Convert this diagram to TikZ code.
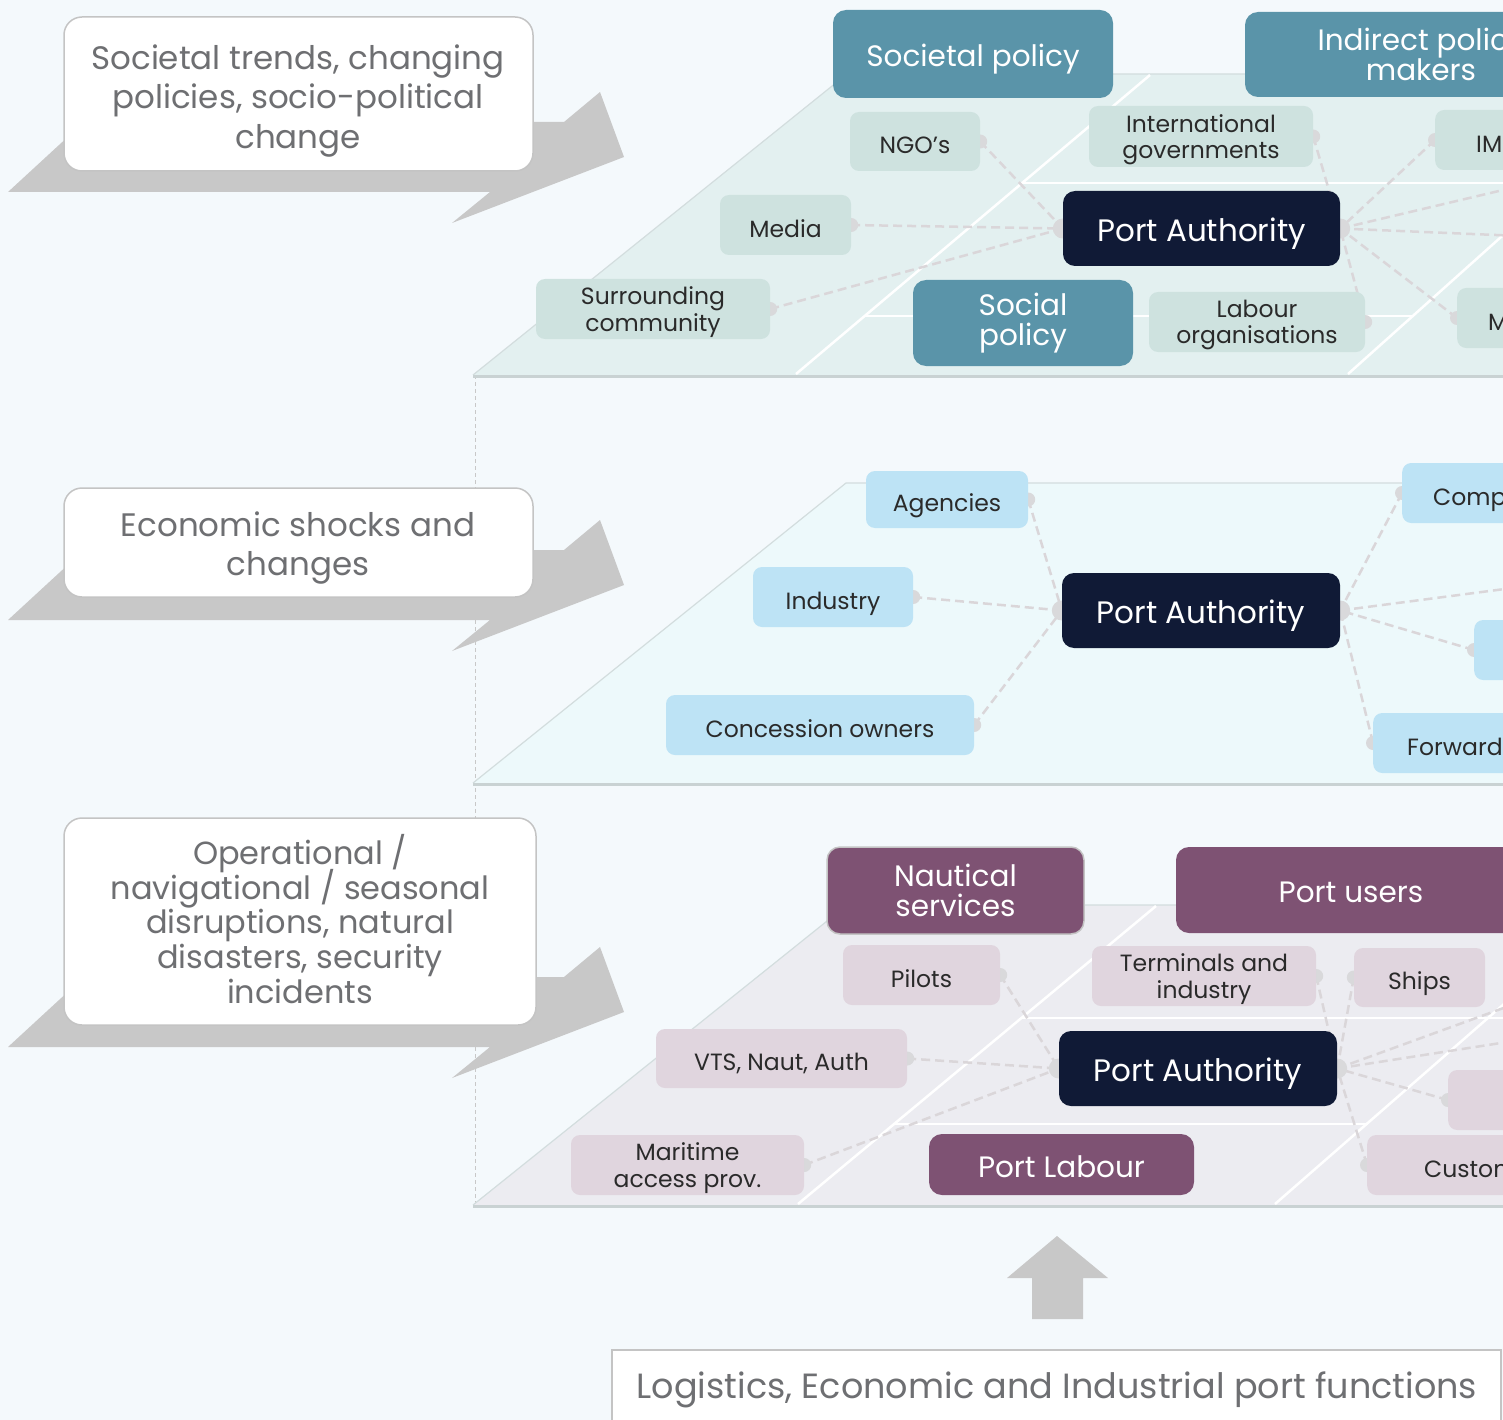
\documentclass[tikz,border=0pt]{standalone}
\usepackage{fontspec}
\setmainfont{Poppins}
\definecolor{bgc}{HTML}{F4F9FC}
\definecolor{topplane}{HTML}{E3F0F0}
\definecolor{topnode}{HTML}{CEE2DF}
\definecolor{cteal}{HTML}{5A94A9}
\definecolor{cnavy}{HTML}{101A36}
\definecolor{midplane}{HTML}{EDF9FB}
\definecolor{midnode}{HTML}{BDE3F5}
\definecolor{botplane}{HTML}{ECECF1}
\definecolor{botnode}{HTML}{E0D5DE}
\definecolor{cpurp}{HTML}{7E5273}
\definecolor{dashc}{HTML}{DAD6D9}
\definecolor{dotc}{HTML}{D9D9DB}
\definecolor{calltxt}{HTML}{6E6F72}
\definecolor{callb}{HTML}{C4C4C4}
\definecolor{arrowc}{HTML}{C8C8C8}
\definecolor{txtd}{HTML}{2A2A2A}
\definecolor{planeedge}{HTML}{D3DDDE}
\definecolor{planeshadow}{HTML}{C9D2D3}
\newcommand\fcall{\fontsize{32.5}{39.5}\selectfont\lineskiplimit=-40pt\lineskip=0pt}
\newcommand\fcallc{\fontsize{32}{34.8}\selectfont\lineskiplimit=-40pt\lineskip=0pt}
\newcommand\fhead{\fontsize{29.5}{30}\selectfont\lineskiplimit=-40pt\lineskip=0pt}
\newcommand\fpa{\fontsize{31}{32}\selectfont}
\newcommand\fsm{\fontsize{23.5}{26.5}\selectfont\lineskiplimit=-40pt\lineskip=0pt}
\newcommand\fbig{\fontsize{35}{38}\selectfont}
\newcommand\bx[7]{\node[#6, minimum width={(#4-#2)*1pt}, minimum height={(#5-#3)*1pt}] (#1) at ({(#2+#4)/2},{(#3+#5)/2}) {#7};}
\pgfdeclarelayer{bglayer}
\pgfdeclarelayer{connlayer}
\pgfsetlayers{bglayer,connlayer,main}
\begin{document}
\begin{tikzpicture}[x=1pt,y=-1pt,
  nd/.style={rounded corners=9pt, inner sep=0pt, align=center},
  tsm/.style={nd, fill=topnode, text=txtd, font=\fsm},
  msm/.style={nd, fill=midnode, text=txtd, font=\fsm},
  bsm/.style={nd, fill=botnode, text=txtd, font=\fsm},
  thd/.style={nd, rounded corners=13pt, fill=cteal, text=white, font=\fhead},
  bhd/.style={nd, rounded corners=13pt, fill=cpurp, text=white, font=\fhead},
  pa/.style={nd, rounded corners=12pt, fill=cnavy, text=white, font=\fpa, text height=26pt, text depth=0pt},
  one/.style={text height=24.5pt, text depth=0pt},
  two/.style={text depth=-2pt},
  oneh/.style={text height=25pt, text depth=0pt},
  cut/.style={anchor=west, text width=200pt, align=left, minimum height=60pt, inner ysep=0pt, rounded corners=9pt, text=txtd, font=\fsm, one},
  conn/.style={draw=dashc, line width=2.5pt, dash pattern=on 9pt off 5pt},
  cbox/.style={draw=callb, line width=1.5pt, fill=white, rounded corners=18pt, inner sep=0pt},
  ctext/.style={text=calltxt, align=center, inner sep=0pt},
  grid/.style={draw=white, line width=2.5pt},
  dot/.style={fill=dotc}
]
\useasboundingbox (0,0) rectangle (1503,1420);
\clip (0,0) rectangle (1503,1420);

\begin{pgfonlayer}{bglayer}
\fill[bgc] (0,0) rectangle (1503,1420);
% vertical dashed guide
\draw[draw=arrowc, line width=1pt, dash pattern=on 4pt off 3pt] (475,375) -- (475,1205);
% callout arrows
\foreach \s in {0,428,855}{
  \fill[arrowc] (8,192+\s) -- (84,122+\s) -- (564,122+\s) -- (600,92+\s) -- (624,157+\s) -- (452,223+\s) -- (490,192+\s) -- cycle;
}
% up arrow
\fill[arrowc] (1057,1236) -- (1108,1278) -- (1083,1278) -- (1083,1319) -- (1032,1319) -- (1032,1278) -- (1007,1278) -- cycle;
% planes
\fill[topplane] (473,375) -- (847,74) -- (1520,74) -- (1520,375) -- cycle;
\draw[planeedge, line width=1.2pt] (473,375) -- (847,74) -- (1520,74);
\draw[planeshadow, line width=3pt] (473,376) -- (1520,376);
\fill[midplane] (473,783) -- (846,483) -- (1520,483) -- (1520,783) -- cycle;
\draw[planeedge, line width=1.2pt] (473,783) -- (846,483) -- (1520,483);
\draw[planeshadow, line width=3pt] (473,784) -- (1520,784);
\fill[botplane] (473,1205) -- (847,905) -- (1520,905) -- (1520,1205) -- cycle;
\draw[planeedge, line width=1.2pt] (473,1205) -- (847,905) -- (1520,905);
\draw[planeshadow, line width=3pt] (473,1206) -- (1520,1206);
% grid lines
\draw[grid] (1150,75) -- (796,374);
\draw[grid] (1348,374) -- (1520,220);
\draw[grid] (1022,183) -- (1520,183);
\draw[grid] (865,316) -- (1414,316);
\draw[grid] (1156,906) -- (798,1204);
\draw[grid] (1275,1204) -- (1520,990);
\draw[grid] (1021,1018) -- (1520,1018);
\draw[grid] (894,1124) -- (1368,1124);
\end{pgfonlayer}

% callout boxes
\bx{c1}{64}{17}{533}{171}{cbox}{}
\node[ctext, font=\fcall] (c1t) at (298,101) {Societal trends, changing\\policies, socio-political\\change};
\bx{c2}{64}{488}{533}{597}{cbox}{}
\node[ctext, font=\fcall] (c2t) at (298,548) {Economic shocks and\\changes};
\bx{c3}{64}{818}{536}{1025}{cbox}{}
\node[ctext, font=\fcallc] (c3t) at (300,919) {Operational /\\navigational / seasonal\\disruptions, natural\\disasters, security\\incidents};

% bottom box
\draw[callb, line width=1.5pt, fill=white] (612,1350) rectangle (1501,1440);
\node[ctext, font=\fbig, text height=25pt, text depth=0pt] (func) at (1057,1386) {Logistics, Economic and Industrial port functions};

% ---------- top level nodes
\bx{socp}{833}{10}{1113}{98}{thd, oneh}{Societal policy}
\bx{indp}{1245}{12}{1597}{97}{thd}{Indirect policy\\makers}
\bx{ngo}{850}{112}{980}{171}{tsm, one}{NGO’s}
\bx{intl}{1089}{106}{1313}{167}{tsm, two}{International\\governments}
\node[cut, fill=topnode, inner xsep=41pt] (imo) at (1435,140) {IM};
\bx{pa1}{1063}{191}{1340}{266}{pa}{Port Authority}
\bx{media}{720}{195}{851}{255}{tsm, one}{Media}
\bx{surr}{536}{279}{770}{339}{tsm, two}{Surrounding\\community}
\bx{socl}{913}{280}{1133}{366}{thd}{Social\\policy}
\bx{lab}{1149}{292}{1365}{352}{tsm, two}{Labour\\organisations}
\node[cut, fill=topnode, inner xsep=31pt] (mm) at (1457,318) {M};
\coordinate (t1) at (1520,186);
\coordinate (t2) at (1520,236);

% ---------- middle level nodes
\bx{agen}{866}{471}{1028}{528}{msm, one}{Agencies}
\bx{ind}{753}{567}{913}{627}{msm, one}{Industry}
\bx{conc}{666}{695}{974}{755}{msm, one}{Concession owners}
\bx{pa2}{1062}{573}{1340}{648}{pa}{Port Authority}
\node[cut, fill=midnode, inner xsep=31pt] (comp) at (1402,493) {Comp};
\node[cut, fill=midnode, inner xsep=31pt] (unm) at (1474,650) {};
\node[cut, fill=midnode, inner xsep=34pt] (fwd) at (1373,743) {Forward};
\coordinate (m1) at (1520,587);

% ---------- bottom level nodes
\bx{naut}{827}{847}{1084}{934}{bhd, draw=callb, line width=1.5pt}{Nautical\\services}
\bx{pusers}{1176}{847}{1526}{933}{bhd, oneh}{Port users}
\bx{pil}{843}{945}{1000}{1005}{bsm, one}{Pilots}
\bx{term}{1092}{946}{1316}{1006}{bsm, two}{Terminals and\\industry}
\bx{ships}{1354}{948}{1485}{1007}{bsm, one}{Ships}
\bx{vts}{656}{1029}{907}{1088}{bsm, one}{VTS, Naut, Auth}
\bx{pa3}{1059}{1031}{1337}{1106}{pa}{Port Authority}
\bx{mar}{571}{1135}{804}{1195}{bsm, two}{Maritime\\access prov.}
\bx{plab}{929}{1134}{1194}{1195}{bhd, oneh}{Port Labour}
\node[cut, fill=botnode, inner xsep=31pt] (unb) at (1448,1100) {};
\node[cut, fill=botnode, inner xsep=57pt] (cust) at (1367,1165) {Custom};
\coordinate (b1) at (1520,1002);
\coordinate (b2) at (1520,1040);

% ---------- connectors and end dots (behind nodes)
\begin{pgfonlayer}{connlayer}
\foreach \a in {ngo,media,surr} \draw[conn] (\a.east) -- (pa1.west);
\foreach \a in {intl,lab} \draw[conn] (\a.east) -- (pa1.east);
\foreach \a in {imo,mm} \draw[conn] (\a.west) -- (pa1.east);
\draw[conn] (pa1.east) -- (t1);
\draw[conn] (pa1.east) -- (t2);
\foreach \a in {agen,ind,conc} \draw[conn] (\a.east) -- (pa2.west);
\foreach \a in {comp,unm,fwd} \draw[conn] (\a.west) -- (pa2.east);
\draw[conn] (pa2.east) -- (m1);
\foreach \a in {pil,vts,mar} \draw[conn] (\a.east) -- (pa3.west);
\draw[conn] (term.east) -- (pa3.east);
\foreach \a in {ships,unb,cust} \draw[conn] (\a.west) -- (pa3.east);
\draw[conn] (pa3.east) -- (b1);
\draw[conn] (pa3.east) -- (b2);
\foreach \a in {ngo,media,surr,intl,lab,agen,ind,conc,pil,vts,mar,term} \fill[dot] (\a.east) circle (7pt);
\foreach \a in {imo,mm,comp,unm,fwd,ships,unb,cust} \fill[dot] (\a.west) circle (7pt);
\foreach \a in {pa1,pa2,pa3} {\fill[dot] (\a.east) circle (10pt); \fill[dot] (\a.west) circle (10pt);}
\end{pgfonlayer}
\end{tikzpicture}
\end{document}
